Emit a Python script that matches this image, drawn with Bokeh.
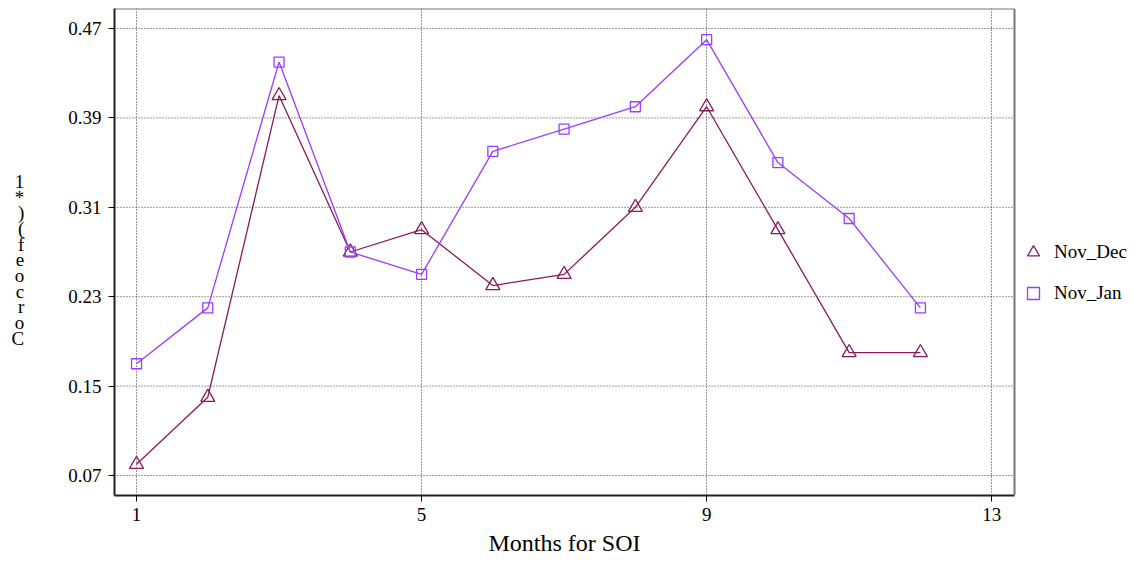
from bokeh.plotting import figure
from bokeh.models import FixedTicker, Legend, LegendItem, Range1d, Span, Title
from bokeh.embed import file_html
from bokeh.resources import INLINE

months = [1, 2, 3, 4, 5, 6, 7, 8, 9, 10, 11, 12]
nov_dec = [0.08, 0.14, 0.41, 0.27, 0.29, 0.24, 0.25, 0.31, 0.40, 0.29, 0.18, 0.18]
nov_jan = [0.17, 0.22, 0.44, 0.27, 0.25, 0.36, 0.38, 0.40, 0.46, 0.35, 0.30, 0.22]
x_ticks = [1, 5, 9, 13]
y_ticks = [0.07, 0.15, 0.23, 0.31, 0.39, 0.47]
y_label_chars = ["1", "*", ")", "(", "f", "e", "o", "c", "r", "o", "C"]
series_names = ["Nov_Dec", "Nov_Jan"]
x_title = "Months for SOI"

FONT = "Liberation Serif"
C_DEC = "#8A1A5A"
C_JAN = "#9D3BFF"

# plot-box extent (data units) and canvas geometry
X_LO, X_HI = 0.691, 13.32
Y_LO, Y_HI = 0.0521, 0.4879
W, H = 1134, 566
LEFT, TOP, BOTTOM = 114, 8, 71
BOX_W = 900
px_per_x = BOX_W / (X_HI - X_LO)
x_canvas_hi = X_LO + (W - LEFT) / px_per_x

p = figure(width=W, height=H, output_backend="svg", toolbar_location=None,
           x_range=Range1d(X_LO, x_canvas_hi), y_range=Range1d(Y_LO, Y_HI),
           min_border_left=LEFT, min_border_right=0, min_border_top=TOP,
           min_border_bottom=BOTTOM)
p.background_fill_color = "white"
p.border_fill_color = "white"
p.outline_line_color = None

# horizontal dotted grid limited to the plot box
p.segment(x0=[X_LO] * len(y_ticks), y0=y_ticks, x1=[X_HI] * len(y_ticks), y1=y_ticks,
          line_color="#333333", line_dash="1 2", line_width=1)
p.ygrid.grid_line_color = None
p.xgrid.ticker = FixedTicker(ticks=x_ticks)
p.xgrid.grid_line_color = "#333333"
p.xgrid.grid_line_dash = "1 2"
p.xgrid.grid_line_width = 1

# top and right border of the plot box
p.segment(x0=[X_LO], y0=[Y_HI], x1=[X_HI], y1=[Y_HI], line_color="#777777", line_width=2)
p.add_layout(Span(location=X_HI, dimension="height", line_color="#777777", line_width=2))

p.line(months, nov_dec, line_color=C_DEC, line_width=1.3)
s1 = p.scatter(months, nov_dec, marker="triangle", size=14, fill_color=None,
               line_color=C_DEC, line_width=1.3)
p.line(months, nov_jan, line_color=C_JAN, line_width=1.3)
s2 = p.scatter(months, nov_jan, marker="square", size=10, fill_color=None,
               line_color=C_JAN, line_width=1.3)

for ax in (p.xaxis[0], p.yaxis[0]):
    ax.axis_line_color = "#222222"
    ax.axis_line_width = 2
    ax.major_tick_line_color = "black"
    ax.major_tick_out = 6
    ax.major_tick_in = 0
    ax.minor_tick_line_color = None
    ax.major_label_text_font = FONT
    ax.major_label_text_font_size = "19px"
    ax.major_label_text_color = "black"

p.xaxis.bounds = (X_LO, X_HI)
p.xaxis.ticker = FixedTicker(ticks=x_ticks)
p.yaxis.ticker = FixedTicker(ticks=y_ticks)
p.yaxis.major_label_standoff = 7
p.xaxis.major_label_standoff = 6

# x-axis title placed under the centre of the plot box
xt = Title(text=x_title, align="left", offset=374,
           text_font=FONT, text_font_style="normal", text_font_size="24px",
           text_color="black", standoff=8)
p.add_layout(xt, "below")

yax = p.yaxis[0]
yax.axis_label = "\n" + "\n".join(y_label_chars)
yax.axis_label_text_font = FONT
yax.axis_label_text_font_style = "normal"
yax.axis_label_text_font_size = "19px"
yax.axis_label_text_color = "black"
yax.axis_label_text_line_height = 0.745
yax.axis_label_standoff = 41
try:
    yax.axis_label_orientation = "horizontal"
except Exception:
    pass

legend = Legend(items=[LegendItem(label=series_names[0], renderers=[s1]),
                       LegendItem(label=series_names[1], renderers=[s2])],
                location=(904, 187), padding=6, spacing=11, glyph_width=30,
                glyph_height=30, label_standoff=6, margin=0, border_line_color=None,
                background_fill_alpha=0, label_text_font=FONT,
                label_text_font_size="19px", label_text_color="black")
p.add_layout(legend, "center")

open("out.html", "w").write(file_html(p, INLINE))
